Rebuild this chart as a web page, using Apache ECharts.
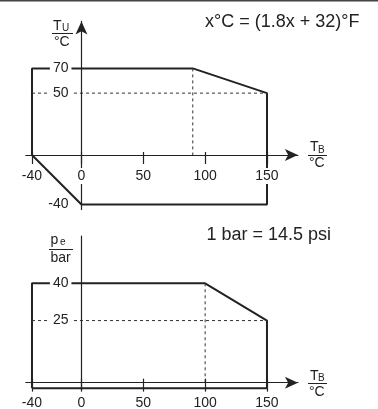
<!DOCTYPE html>
<html>
<head>
<meta charset="utf-8">
<script src="https://cdn.jsdelivr.net/npm/echarts@6/dist/echarts.min.js"></script>
<style>
html,body{margin:0;padding:0;background:#fff;}
#chart{width:378px;height:409px;}
</style>
</head>
<body>
<div id="chart"></div>
<script>
// ---- data ----
const xTickValues = [-40, 0, 50, 100, 150];
const tempYLabels = [70, 50, -40];
const pressYLabels = [40, 25];
const tempOutline = [[-40, 0], [-40, 70], [90, 70], [150, 50], [150, -40], [0, -40], [-40, 0]];
const tempDashH = [[-40, 50], [150, 50]];
const tempDashV = [[90, 70], [90, 0]];
const pressOutline = [[-40, -2.3], [-40, 40], [100, 40], [150, 25], [150, -2.3], [-40, -2.3]];
const pressDashH = [[-40, 25], [150, 25]];
const pressDashV = [[100, 40], [100, 0]];
const noteTemp = 'x°C = (1.8x + 32)°F';
const notePress = '1 bar = 14.5 psi';

const FONT = '"Liberation Sans", Arial, Helvetica, sans-serif';
const INK = '#222';

// layout
const GX = {left: 25.8, width: 272.1, min: -45, max: 175};
const G0 = {top: 21.4, height: 188, min: -44, max: 108};
const G1 = {top: 236.1, height: 154, min: -3, max: 59};
function zeroOffsetX(g) { // distance from grid bottom up to y=0
  return g.height * (0 - g.min) / (g.max - g.min);
}
const yOffset = GX.width * (0 - GX.min) / (GX.max - GX.min);

const chart = echarts.init(document.getElementById('chart'), null, {renderer: 'canvas'});

function mainX(gridIndex, g, tickLen, margin) {
  return {
    type: 'value', gridIndex: gridIndex, min: GX.min, max: GX.max, z: 6,
    position: 'bottom', offset: -zeroOffsetX(g),
    splitLine: {show: false},
    axisLine: {show: true, onZero: false, symbol: ['none', 'arrow'], symbolSize: [9, 13],
      lineStyle: {color: INK, width: 1.2}},
    axisTick: {show: true, inside: false, length: tickLen, customValues: xTickValues,
      lineStyle: {color: INK, width: 1.2}},
    axisLabel: {show: true, customValues: xTickValues, margin: margin,
      fontSize: 14, fontFamily: FONT, color: INK,
      backgroundColor: '#fff', padding: [1, 2]}
  };
}
function upTickX(gridIndex, g, tickLen) {
  return {
    type: 'value', gridIndex: gridIndex, min: GX.min, max: GX.max, z: 4,
    position: 'bottom', offset: -zeroOffsetX(g),
    splitLine: {show: false},
    axisLine: {show: false, onZero: false},
    axisTick: {show: true, inside: true, length: tickLen, customValues: xTickValues,
      lineStyle: {color: INK, width: 1.2}},
    axisLabel: {show: false}
  };
}
function mainY(gridIndex, g, labels, arrow) {
  return {
    type: 'value', gridIndex: gridIndex, min: g.min, max: g.max, z: 5,
    position: 'left', offset: -yOffset,
    splitLine: {show: false},
    axisLine: {show: true, onZero: false, symbol: arrow ? ['none', 'arrow'] : ['none', 'none'],
      symbolSize: [9, 13], lineStyle: {color: INK, width: 1.2}},
    axisTick: {show: false},
    axisLabel: {show: true, customValues: labels, margin: 10,
      fontSize: 14, fontFamily: FONT, color: INK,
      backgroundColor: '#fff', padding: [0, 3]}
  };
}
function lineSeries(data, xi, yi, dashed) {
  return {
    type: 'line', data: data, xAxisIndex: xi, yAxisIndex: yi,
    showSymbol: false, symbol: 'none', silent: true, z: 2,
    lineStyle: dashed ? {color: '#333', width: 1, type: [3, 3]} : {color: INK, width: 2},
    animation: false
  };
}
function txt(x, y, text, size) {
  return {type: 'text', x: x, y: y, z: 20,
    style: {text: text, font: size + 'px ' + FONT, fill: INK, textAlign: 'left', textVerticalAlign: 'middle'}};
}
function rule(x1, x2, y) {
  return {type: 'line', z: 20, shape: {x1: x1, y1: y, x2: x2, y2: y}, style: {stroke: INK, lineWidth: 1}};
}

const option = {
  animation: false,
  backgroundColor: '#fff',
  grid: [
    {left: GX.left, top: G0.top, width: GX.width, height: G0.height, outerBoundsMode: 'none', containLabel: false},
    {left: GX.left, top: G1.top, width: GX.width, height: G1.height, outerBoundsMode: 'none', containLabel: false}
  ],
  xAxis: [mainX(0, G0, 9, 13), mainX(1, G1, 9, 12), upTickX(0, G0, 3), upTickX(1, G1, 4)],
  yAxis: [mainY(0, G0, tempYLabels, true), mainY(1, G1, pressYLabels, false)],
  series: [
    lineSeries(tempOutline, 0, 0, false),
    lineSeries(tempDashH, 0, 0, true),
    lineSeries(tempDashV, 0, 0, true),
    lineSeries(pressOutline, 1, 1, false),
    lineSeries(pressDashH, 1, 1, true),
    lineSeries(pressDashV, 1, 1, true)
  ],
  graphic: [
    {type: 'rect', shape: {x: 0, y: 0, width: 378, height: 1.5}, style: {fill: '#444'}, z: 20},
    txt(205, 22.5, noteTemp, 18),
    txt(206.5, 235, notePress, 18),
    // T_U / °C
    txt(53, 26, 'T', 14), txt(62, 28.5, 'U', 10), rule(52, 73, 33.5), txt(54, 42.5, '°C', 14),
    // T_B / °C (top)
    txt(310, 147.5, 'T', 14), txt(318, 150, 'B', 10), rule(308, 327, 155.5), txt(309, 163, '°C', 14),
    // p_e / bar
    txt(50.5, 240, 'p', 14), txt(60, 242, 'e', 10), rule(49, 73, 249.5), txt(50.5, 258, 'bar', 14),
    // T_B / °C (bottom)
    txt(310, 376, 'T', 14), txt(318, 378.5, 'B', 10), rule(308, 327, 383.5), txt(309, 392, '°C', 14)
  ]
};
chart.setOption(option);
</script>
</body>
</html>
